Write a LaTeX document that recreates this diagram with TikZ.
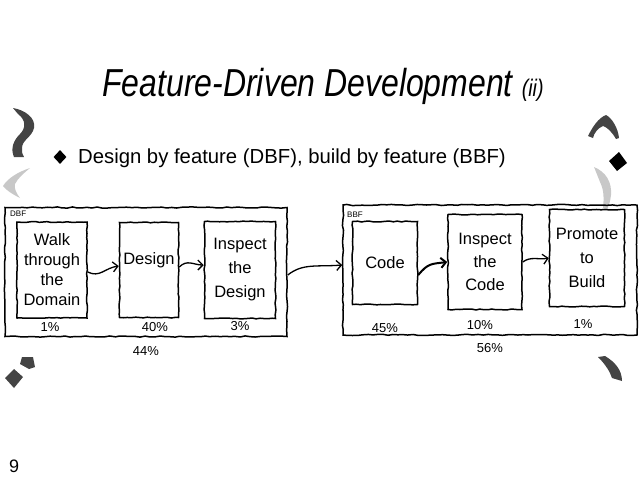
\documentclass[tikz,border=0pt]{standalone}
\usepackage{fontspec}
\setmainfont{Liberation Sans}
\usepackage{graphicx}
\usetikzlibrary{positioning,shapes.geometric,decorations.pathmorphing,arrows.meta}
\definecolor{decodark}{RGB}{68,68,68}
\definecolor{decolight}{RGB}{200,200,200}

\begin{document}
\begin{tikzpicture}[x=1pt,y=-1pt,>={Straight Barb[length=5pt,width=10pt]},
  stage/.style={draw,line width=1.5pt,inner sep=0pt,align=center,
    font=\fontsize{16.5}{21}\selectfont,
    decorate,decoration={random steps,segment length=4pt,amplitude=0.5pt}},
  phase/.style={draw,line width=1.5pt,inner sep=0pt,
    decorate,decoration={random steps,segment length=5pt,amplitude=0.6pt}},
  pct/.style={inner sep=0pt,font=\fontsize{13}{13}\selectfont},
  tag/.style={inner sep=0pt,anchor=north west,font=\fontsize{8}{8}\selectfont},
  flow/.style={->,line width=1.3pt}]
  \pgfmathsetseed{3}
  \useasboundingbox (0,0) rectangle (640,480);
  \node[anchor=base] (title) at (323,96) {\scalebox{0.82}[1]{\fontsize{39}{40}\selectfont\itshape Feature-Driven Development \fontsize{24}{24}\selectfont(ii)}};
  \node[diamond,fill=black,inner sep=0pt,minimum width=13,minimum height=14] (bulletmark) at (60,157) {};
  \node[anchor=base west,inner sep=0pt] (bullet) at (78,163) {\fontsize{20.3}{24}\selectfont Design by feature (DBF), build by feature (BBF)};
  \node[anchor=base west,inner sep=0pt] (pagenum) at (9,472) {\fontsize{18}{18}\selectfont 9};
  \fill[decodark] (13,108) .. controls (25,110) and (36,118) .. (34,128) .. controls (32,137) and (22,140) .. (22,148) .. controls (22,153) .. (24,157) -- (14,157) .. controls (10,148) and (14,140) .. (20,134) .. controls (26,128) and (26,120) .. (18,114) -- cycle;
  \fill[decolight] (30,168) .. controls (18,172) and (8,178) .. (3,186) .. controls (6,190) and (12,194) .. (20,198) .. controls (16,193) and (14,188) .. (15,184) .. controls (18,178) and (24,173) .. (30,168) -- cycle;
  \fill[decodark] (588,136) .. controls (592,128) and (598,118) .. (606,115) .. controls (612,118) and (618,128) .. (619,138) -- (616,139) .. controls (612,132) and (607,127) .. (603,126) .. controls (598,128) and (594,133) .. (593,138) -- cycle;
  \fill[black] (609,161) -- (619,152) -- (627,163) -- (617,171) -- cycle;
  \fill[decolight] (594,167) .. controls (606,172) and (612,182) .. (611,195) .. controls (610,202) .. (607,210) -- (603,208) .. controls (604,198) and (604,190) .. (600,182) .. controls (598,177) .. (594,167) -- cycle;
  \fill[decodark] (22,357) -- (33,357) -- (35,367) -- (29,369) -- (20,364) -- cycle;
  \fill[decodark] (5,378) -- (14,369) -- (23,377) -- (14,388) -- cycle;
  \fill[decodark] (598,357) -- (605,356) .. controls (615,362) and (622,370) .. (622,381) -- (612,378) .. controls (610,372) and (606,365) .. (598,357) -- cycle;
  \node[phase,minimum width=282,minimum height=129] (dbf) at (146,272) {};
  \node[tag] (dbftag) at (10,211) {DBF};
  \node[stage,minimum width=70,minimum height=96,font=\fontsize{16.5}{20}\selectfont] (walk) at (52,270) {Walk\\through\\the\\Domain};
  \node[stage,minimum width=59,minimum height=95,text height=12pt,text depth=24pt] (design) at (149,270) {Design};
  \node[stage,minimum width=71,minimum height=97,font=\fontsize{16.5}{24}\selectfont] (inspd) at (240,270) {Inspect\\the\\Design};
  \node[phase,minimum width=294,minimum height=130] (bbf) at (490,270) {};
  \node[tag] (bbftag) at (347,212) {BBF};
  \node[stage,minimum width=65,minimum height=83] (code) at (385,263) {Code};
  \node[stage,minimum width=74,minimum height=95,font=\fontsize{16.5}{23}\selectfont] (inspc) at (485,262) {Inspect\\the\\Code};
  \node[stage,minimum width=75,minimum height=97,font=\fontsize{16.5}{24}\selectfont] (promote) at (587,258) {Promote\\to\\Build};
  \node[pct,below=4pt of walk,xshift=-2pt] (pwalk) {1\%};
  \node[pct,below=4pt of design,xshift=6pt] (pdesign) {40\%};
  \node[pct,below=2pt of inspd] (pinspd) {3\%};
  \node[pct,below=9pt of dbf] (pdbf) {44\%};
  \node[pct,below=18pt of code] (pcode) {45\%};
  \node[pct,below=10pt of inspc,xshift=-5pt] (pinspc) {10\%};
  \node[pct,below=12pt of promote,xshift=-4pt] (ppromote) {1\%};
  \node[pct,below=7pt of bbf] (pbbf) {56\%};
  \draw[flow] ([yshift=-2pt]walk.east) .. controls +(12,6) and +(-14,2) .. ([yshift=4pt]design.west);
  \draw[flow] ([yshift=3pt]design.east) .. controls +(8,-8) and +(-10,0) .. ([yshift=5pt]inspd.west);
  \draw[flow] ([yshift=-3pt]dbf.east) .. controls +(15,-12) and +(-25,2) .. ([yshift=5pt]bbf.west);
  \draw[flow,line width=2pt] ([yshift=-12pt]code.east) .. controls +(10,-12) and +(-16,2) .. (inspc.west);
  \draw[flow] (inspc.east) .. controls +(8,-6) and +(-10,2) .. (promote.west);
\end{tikzpicture}
\end{document}
